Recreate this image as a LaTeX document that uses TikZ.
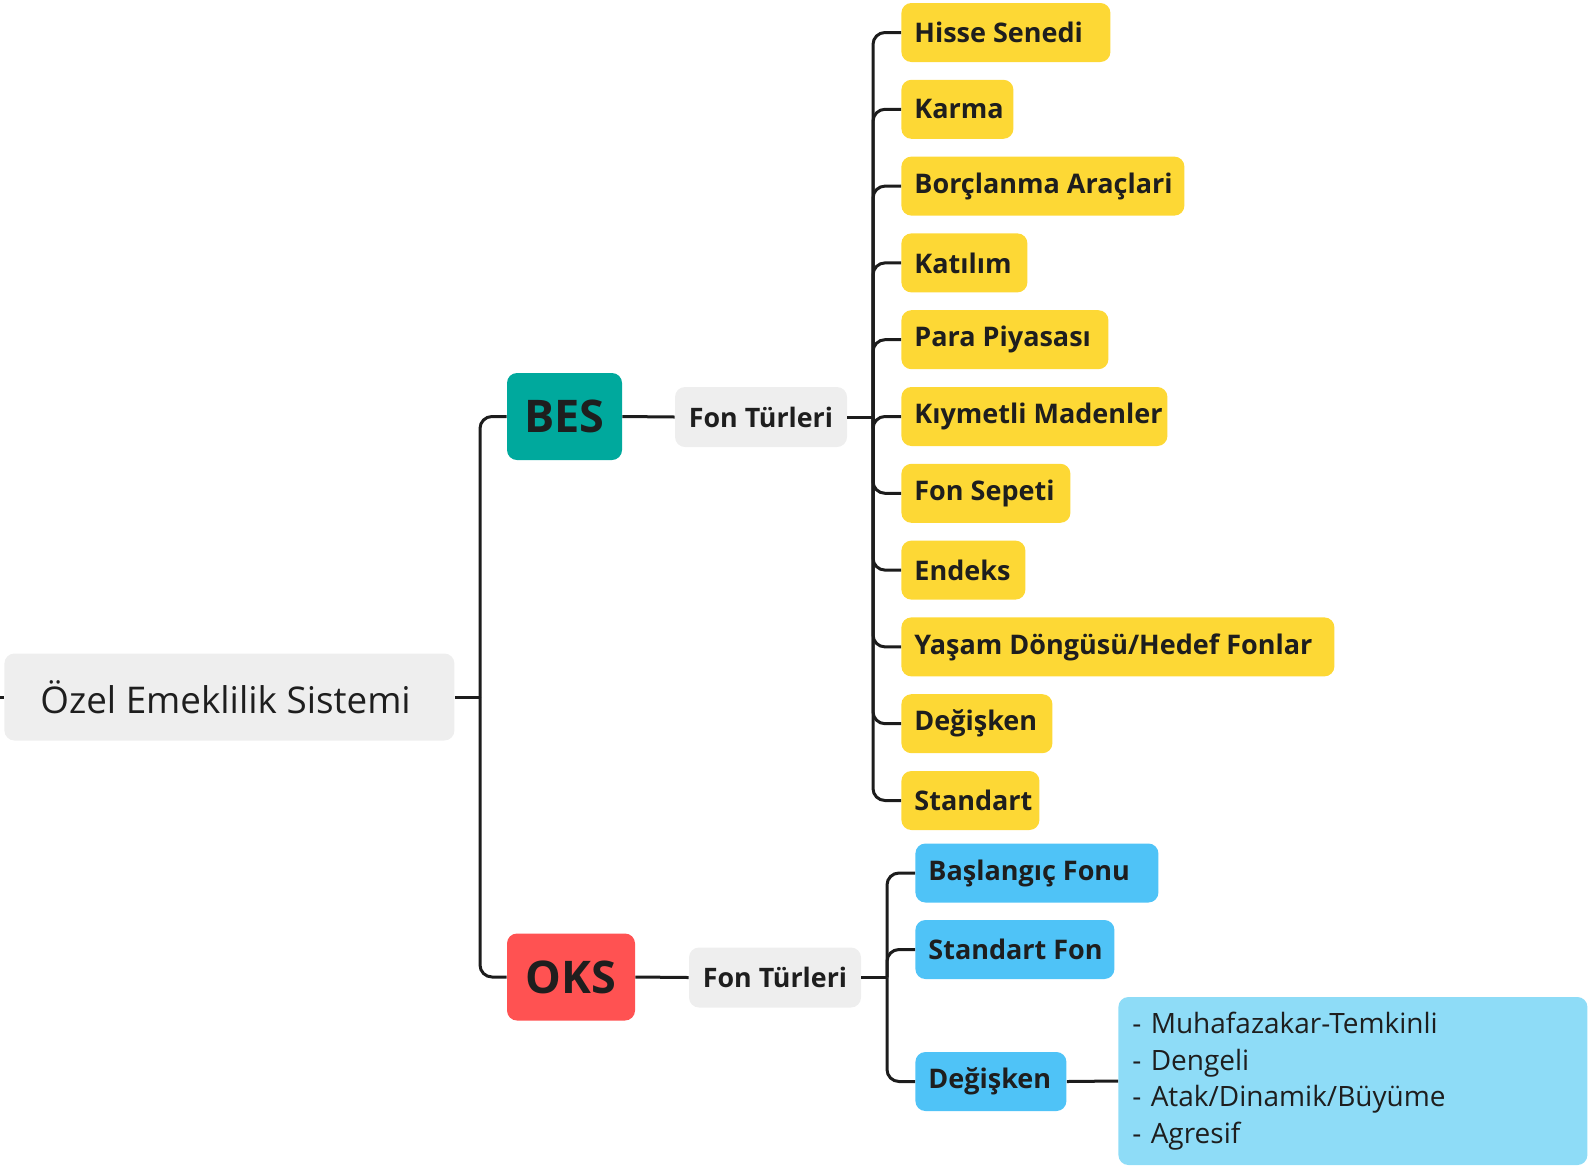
\documentclass[tikz,border=0pt]{standalone}
\usepackage{fontspec}
\setmainfont{Open Sans}
% left-aligned label of fixed width (never wraps)
\newcommand\lbox[2]{\makebox[#1][l]{#2}}
\begin{document}
\definecolor{linecol}{HTML}{1C1C1C}
\definecolor{txtcol}{HTML}{1E1E1E}
\definecolor{grayfill}{HTML}{EEEEEE}
\definecolor{tealfill}{HTML}{00A99D}
\definecolor{redfill}{HTML}{FF5252}
\definecolor{yelfill}{HTML}{FDD835}
\definecolor{bluefill}{HTML}{4FC3F7}
\definecolor{lbluefill}{HTML}{8EDCF7}
\begin{tikzpicture}[x=0.5pt,y=-0.5pt,
  conn/.style={draw=linecol,line width=1.5pt,rounded corners=6pt},
  basebox/.style={rounded corners=5pt,inner ysep=0pt,text=txtcol},
  rootbox/.style={basebox,fill=grayfill,anchor=west,minimum height=43.5pt,
    inner xsep=18pt,font=\fontsize{18.4}{20}\selectfont},
  mainbox/.style={basebox,minimum height=43.5pt,inner xsep=0pt,
    font=\bfseries\fontsize{22.5}{26}\selectfont},
  fonbox/.style={basebox,fill=grayfill,minimum width=86pt,minimum height=30pt,
    inner xsep=0pt,font=\bfseries\fontsize{13.4}{16}\selectfont},
  leafbox/.style={basebox,anchor=west,minimum height=29.5pt,inner xsep=6.5pt,
    font=\bfseries\fontsize{13.5}{16}\selectfont},
  ybox/.style={leafbox,fill=yelfill},
  bbox/.style={leafbox,fill=bluefill},
  notebox/.style={basebox,fill=lbluefill,anchor=west,minimum height=84pt,
    inner xsep=7pt,align=left,font=\fontsize{14}{18.3}\selectfont}]

\useasboundingbox (0,0) rectangle (1589,1168);

% root and first level
\node[rootbox] (root) at (4,697) {\lbox{189pt}{Özel Emeklilik Sistemi}};
\node[mainbox,fill=tealfill,minimum width=57.5pt] (bes) at (564.5,416.5) {BES};
\node[mainbox,fill=redfill,minimum width=64pt] (oks) at (571,977) {OKS};
\node[fonbox] (fonB) at (761,417) {Fon Türleri};
\node[fonbox] (fonO) at (775,977.5) {Fon Türleri};

% BES fund types
\node[ybox] (y1)  at (901,32.5)  {\lbox{91.5pt}{Hisse Senedi}};
\node[ybox] (y2)  at (901,109.3) {\lbox{43pt}{Karma}};
\node[ybox] (y3)  at (901,186.1) {\lbox{128.5pt}{Borçlanma Araçlari}};
\node[ybox] (y4)  at (901,262.9) {\lbox{50pt}{Katılım}};
\node[ybox] (y5)  at (901,339.7) {\lbox{90.5pt}{Para Piyasası}};
\node[ybox] (y6)  at (901,416.5) {\lbox{120pt}{Kıymetli Madenler}};
\node[ybox] (y7)  at (901,493.3) {\lbox{71.5pt}{Fon Sepeti}};
\node[ybox] (y8)  at (901,570.1) {\lbox{49pt}{Endeks}};
\node[ybox] (y9)  at (901,646.9) {\lbox{203.5pt}{Yaşam Döngüsü/Hedef Fonlar}};
\node[ybox] (y10) at (901,723.7) {\lbox{62.5pt}{Değişken}};
\node[ybox] (y11) at (901,800.5) {\lbox{56pt}{Standart}};

% OKS fund types
\node[bbox] (b1) at (915,873)    {\lbox{108.5pt}{Başlangıç Fonu}};
\node[bbox] (b2) at (915,949.5)  {\lbox{86.5pt}{Standart Fon}};
\node[bbox] (b3) at (915,1081.5) {\lbox{62.5pt}{Değişken}};
\node[notebox,text width=220.5pt] (note) at (1118,1081)
  {- Muhafazakar-Temkinli\\- Dengeli\\- Atak/Dinamik/Büyüme\\- Agresif};

% junction points
\coordinate (edge) at (0,697);
\coordinate (jR) at (480,697);
\coordinate (jB) at (873,417);
\coordinate (jO) at (887,977.5);

% connectors
\draw[conn] (edge) -- (root.west);
\draw[conn] (root.east) -- (jR);
\draw[conn] (jR) |- (bes.west);
\draw[conn] (jR) |- (oks.west);
\draw[conn] (bes.east) -- (fonB.west);
\draw[conn] (oks.east) -- (fonO.west);
\draw[conn] (fonB.east) -- (jB);
\draw[conn] (fonO.east) -- (jO);
\foreach \n in {y1,y2,y3,y4,y5,y6,y7,y8,y9,y10,y11}
  \draw[conn] (jB) |- (\n.west);
\foreach \n in {b1,b2,b3}
  \draw[conn] (jO) |- (\n.west);
\draw[conn] (b3.east) -- (note.west);
\end{tikzpicture}
\end{document}
